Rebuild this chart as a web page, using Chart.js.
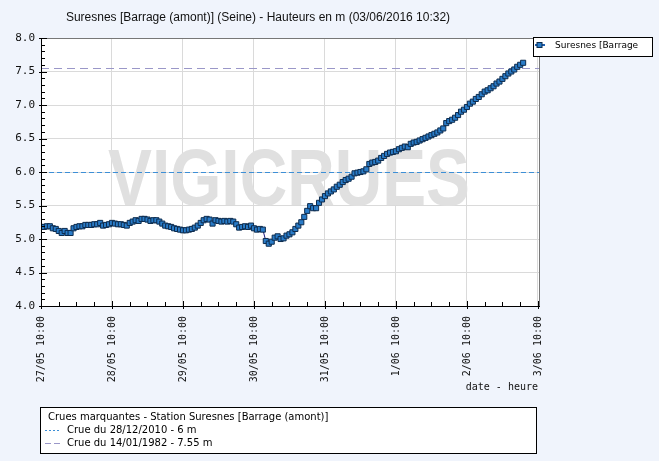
<!DOCTYPE html>
<html>
<head>
<meta charset="utf-8">
<script src="https://cdn.jsdelivr.net/npm/chart.js@4"></script>
<style>
  html, body { margin: 0; padding: 0; background: #f0f4fc; }
  #wrap { position: relative; width: 659px; height: 461px; }
</style>
</head>
<body>
<div id="wrap"><canvas id="graph" width="659" height="461"></canvas></div>
<script>
const titre = 'Suresnes [Barrage (amont)] (Seine) - Hauteurs en m (03/06/2016 10:32)';
const serieNom = 'Suresnes [Barrage';
const jours = ['27/05', '28/05', '29/05', '30/05', '31/05', '1/06', '2/06', '3/06'];
const heureTick = '10:00';

// hauteurs horaires depuis le 27/05 10:00 (m)
const hauteurs = [
  5.18, 5.18, 5.19, 5.19, 5.16, 5.15, 5.12, 5.09, 5.12, 5.09,
  5.09, 5.16, 5.18, 5.19, 5.19, 5.21, 5.21, 5.21, 5.22, 5.22,
  5.24, 5.20, 5.21, 5.22, 5.24, 5.23, 5.22, 5.22, 5.21, 5.20,
  5.24, 5.26, 5.28, 5.27, 5.30, 5.30, 5.29, 5.27, 5.28, 5.28,
  5.26, 5.23, 5.20, 5.19, 5.18, 5.16, 5.15, 5.14, 5.13, 5.13,
  5.14, 5.15, 5.17, 5.20, 5.24, 5.28, 5.30, 5.29, 5.23, 5.28,
  5.27, 5.26, 5.27, 5.26, 5.27, 5.26, 5.22, 5.17, 5.18, 5.19,
  5.18, 5.20, 5.16, 5.14, 5.15, 5.14, 4.97, 4.93, 4.96, 5.02,
  5.04, 5.00, 5.01, 5.05, 5.07, 5.10, 5.15, 5.20, 5.25, 5.33,
  5.42, 5.49, 5.46, 5.46, 5.54, 5.59, 5.64, 5.68, 5.71, 5.74,
  5.78, 5.81, 5.85, 5.88, 5.90, 5.93, 5.98, 5.99, 6.00, 6.01,
  6.04, 6.12, 6.14, 6.15, 6.17, 6.21, 6.24, 6.27, 6.29, 6.30,
  6.31, 6.34, 6.36, 6.38, 6.37, 6.42, 6.44, 6.45, 6.47, 6.49,
  6.51, 6.53, 6.55, 6.57, 6.59, 6.62, 6.65, 6.73, 6.76, 6.78,
  6.81, 6.85, 6.90, 6.93, 6.97, 7.02, 7.05, 7.09, 7.12, 7.16,
  7.20, 7.22, 7.25, 7.28, 7.32, 7.35, 7.39, 7.43, 7.47, 7.50,
  7.53, 7.57, 7.60, 7.63
];

const cruesTitre = 'Crues marquantes - Station Suresnes [Barrage (amont)]';
const cruesNiveaux = [6.0, 7.55];
const cruesLibelles = ['Crue du 28/12/2010 - 6 m', 'Crue du 14/01/1982 - 7.55 m'];
const cruesCouleurs = ['#3d8fd6', '#9a97c8'];
const cruesTirets = [[5, 3], [8, 5]];

const points = hauteurs.map((v, i) => ({ x: i, y: v }));

const decor = {
  id: 'decor',
  beforeDraw(chart) {
    const { ctx, chartArea: a } = chart;
    ctx.save();
    ctx.fillStyle = '#ffffff';
    ctx.fillRect(a.left, a.top, a.right - a.left, a.bottom - a.top);
    ctx.restore();
  },
  beforeDatasetsDraw(chart) {
    const { ctx, chartArea: a, scales } = chart;
    ctx.save();
    ctx.beginPath();
    ctx.rect(a.left, a.top, a.right - a.left, a.bottom - a.top);
    ctx.clip();
    // filigrane
    ctx.save();
    ctx.font = 'bold 80px "Liberation Sans"';
    const w = ctx.measureText('VIGICRUES').width;
    ctx.translate(108, 205);
    ctx.scale(362 / w, 1);
    ctx.fillStyle = '#e0e0e0';
    ctx.textBaseline = 'alphabetic';
    ctx.fillText('VIGICRUES', 0, 0);
    ctx.restore();
    // niveaux de crue
    cruesNiveaux.forEach((niv, i) => {
      const y = Math.round(scales.y.getPixelForValue(niv)) + 0.5;
      ctx.strokeStyle = cruesCouleurs[i];
      ctx.lineWidth = 1;
      ctx.setLineDash(cruesTirets[i]);
      ctx.beginPath();
      ctx.moveTo(a.left, y);
      ctx.lineTo(a.right, y);
      ctx.stroke();
    });
    ctx.restore();
  },
  afterDraw(chart) {
    const { ctx, chartArea: a, scales } = chart;
    ctx.save();
    // cadre
    ctx.lineWidth = 1;
    ctx.strokeStyle = '#777';
    ctx.beginPath();
    ctx.moveTo(a.left, a.top + 0.5); ctx.lineTo(a.right, a.top + 0.5);
    ctx.moveTo(a.right - 0.5, a.top); ctx.lineTo(a.right - 0.5, a.bottom);
    ctx.stroke();
    ctx.strokeStyle = '#000';
    ctx.beginPath();
    ctx.moveTo(a.left + 0.5, a.top); ctx.lineTo(a.left + 0.5, a.bottom + 0.5);
    ctx.lineTo(a.right, a.bottom + 0.5);
    ctx.stroke();
    // graduations y
    ctx.beginPath();
    for (let k = 0; k <= 40; k++) {
      const y = Math.round(scales.y.getPixelForValue(4 + k / 10)) + 0.5;
      if (k % 5 === 0) { ctx.moveTo(a.left - 2, y); ctx.lineTo(a.left + 6, y); }
      else { ctx.moveTo(a.left, y); ctx.lineTo(a.left + 4, y); }
    }
    // graduations x
    for (let h = 0; h <= 168; h += 6) {
      const x = Math.round(scales.x.getPixelForValue(h)) + 0.5;
      if (h % 24 === 0) { ctx.moveTo(x, a.bottom - 5); ctx.lineTo(x, a.bottom + 3); }
      else { ctx.moveTo(x, a.bottom - 4); ctx.lineTo(x, a.bottom); }
    }
    ctx.stroke();

    // titre
    ctx.fillStyle = '#111';
    ctx.font = '12px "Liberation Sans"';
    ctx.textAlign = 'center';
    ctx.textBaseline = 'middle';
    ctx.fillText(titre, 258, 18);

    // titre axe x
    ctx.font = '10px "DejaVu Sans Mono"';
    ctx.textAlign = 'right';
    ctx.fillText('date - heure', 538, 387);

    // légende série
    ctx.fillStyle = '#fff';
    ctx.fillRect(533.5, 37.5, 119, 19);
    ctx.strokeStyle = '#000';
    ctx.strokeRect(533.5, 37.5, 119, 19);
    ctx.strokeStyle = '#1f5fb0';
    ctx.lineWidth = 2;
    ctx.beginPath(); ctx.moveTo(535, 45); ctx.lineTo(545, 45); ctx.stroke();
    ctx.lineWidth = 1;
    ctx.fillStyle = '#2a7cc8';
    ctx.fillRect(537, 42.5, 5, 5);
    ctx.strokeStyle = '#0d2b4d';
    ctx.strokeRect(537, 42.5, 5, 5);
    ctx.fillStyle = '#000';
    ctx.font = '9px "DejaVu Sans"';
    ctx.textAlign = 'left';
    ctx.fillText(serieNom, 555, 46);

    // encadré crues
    ctx.fillStyle = '#fff';
    ctx.fillRect(40.5, 407.5, 496, 46);
    ctx.strokeStyle = '#000';
    ctx.strokeRect(40.5, 407.5, 496, 46);
    ctx.fillStyle = '#000';
    ctx.font = '10px "DejaVu Sans"';
    ctx.fillText(cruesTitre, 48, 417);
    cruesLibelles.forEach((lib, i) => {
      const y = 430 + i * 13;
      ctx.strokeStyle = cruesCouleurs[i];
      ctx.setLineDash(i === 0 ? [2, 2] : [6, 3]);
      ctx.beginPath(); ctx.moveTo(45, y + 0.5); ctx.lineTo(61, y + 0.5); ctx.stroke();
      ctx.setLineDash([]);
      ctx.fillText(lib, 67, y);
    });
    ctx.restore();
  }
};

new Chart(document.getElementById('graph'), {
  type: 'line',
  data: {
    datasets: [{
      label: serieNom,
      data: points,
      borderColor: '#1a1a80',
      borderWidth: 1,
      pointStyle: 'rect',
      pointRadius: 3.6,
      pointBackgroundColor: '#2a7cc8',
      pointBorderColor: '#0d2b4d',
      pointBorderWidth: 1,
      tension: 0
    }]
  },
  options: {
    responsive: false,
    animation: false,
    events: [],
    layout: { padding: { top: 38, right: 119, left: 0, bottom: 0 } },
    plugins: { legend: { display: false }, title: { display: false }, tooltip: { enabled: false } },
    scales: {
      x: {
        type: 'linear',
        min: 0,
        max: 168.7,
        afterFit(s) { s.height = 155; },
        border: { display: false },
        grid: {
          drawTicks: false,
          color: c => (c.tick && c.tick.value % 24 === 0 ? '#dadada' : 'rgba(0,0,0,0)')
        },
        ticks: {
          stepSize: 6,
          autoSkip: false,
          includeBounds: false,
          maxRotation: 90,
          minRotation: 90,
          padding: 10,
          color: '#111',
          font: { family: 'DejaVu Sans Mono', size: 10 },
          callback: v => (v % 24 === 0 ? jours[v / 24] + ' ' + heureTick : '')
        }
      },
      y: {
        min: 4,
        max: 8,
        afterFit(s) { s.width = 41; },
        border: { display: false },
        grid: { drawTicks: false, color: '#dadada' },
        ticks: {
          stepSize: 0.5,
          padding: 6,
          color: '#111',
          font: { family: 'DejaVu Sans Mono', size: 11 },
          callback: v => v.toFixed(1)
        }
      }
    }
  },
  plugins: [decor]
});
</script>
</body>
</html>
